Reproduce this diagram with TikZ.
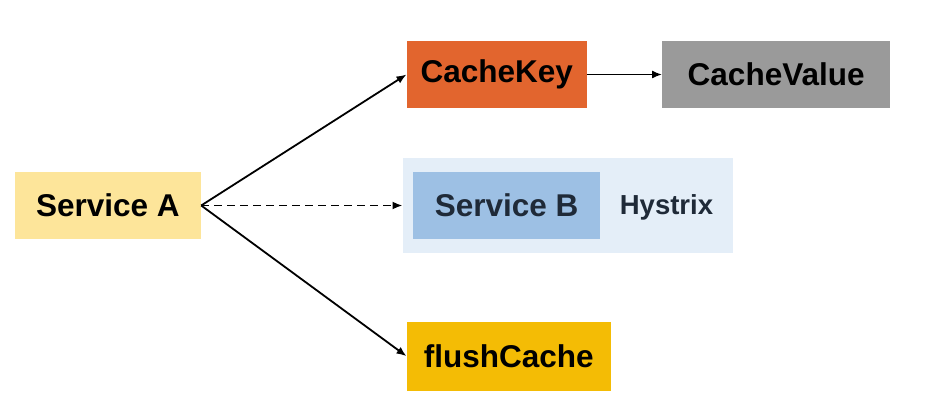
\documentclass[tikz,border=0pt]{standalone}
\usepackage{fontspec}
\setmainfont{Liberation Sans}
\usetikzlibrary{arrows.meta}
\definecolor{saFill}{HTML}{FDE59A}
\definecolor{ckFill}{HTML}{E2652E}
\definecolor{cvFill}{HTML}{9A9A9A}
\definecolor{hyFill}{HTML}{E4EEF8}
\definecolor{sbFill}{HTML}{9DC0E4}
\definecolor{fcFill}{HTML}{F4BC05}
\definecolor{navyText}{HTML}{1F2A38}
\begin{document}
\begin{tikzpicture}[x=1pt,y=-1pt,
  box/.style={draw=none,inner sep=0pt,font=\fontsize{31.5}{37}\selectfont\bfseries},
  conn/.style={line width=1.8pt,-{Latex[length=10pt,width=8pt]}}]
\useasboundingbox (0,0) rectangle (926,411);
\fill[white] (0,0) rectangle (926,411);
\node[box,fill=saFill,minimum width=186.3pt,minimum height=67.6pt] (sa) at (107.85,205.5) {Service A};
\node[box,fill=ckFill,minimum width=180pt,minimum height=67.6pt] (ck) at (496.7,74.5) {CacheKey};
\node[box,fill=cvFill,minimum width=227.7pt,minimum height=67.6pt] (cv) at (776.15,74.5) {CacheValue};
\node[box,fill=hyFill,minimum width=330pt,minimum height=94.4pt] (hy) at (567.7,205.5) {};
\node[box,fill=sbFill,text=navyText,minimum width=186.7pt,minimum height=67.6pt] (sb) at (506.65,205.5) {Service B};
\node[inner sep=0pt,text=navyText,font=\fontsize{27.5}{32}\selectfont\bfseries] (hx) at (666.5,207) {Hystrix};
\node[box,fill=fcFill,minimum width=204.3pt,minimum height=69pt] (fc) at (508.85,356.2) {flushCache};
\draw[conn] (sa.east) -- (ck.west);
\draw[conn,dash pattern=on 8pt off 5pt] (sa.east) -- (hy.west);
\draw[conn] (sa.east) -- (fc.west);
\draw[conn] (ck.east) -- (cv.west);
\end{tikzpicture}
\end{document}
